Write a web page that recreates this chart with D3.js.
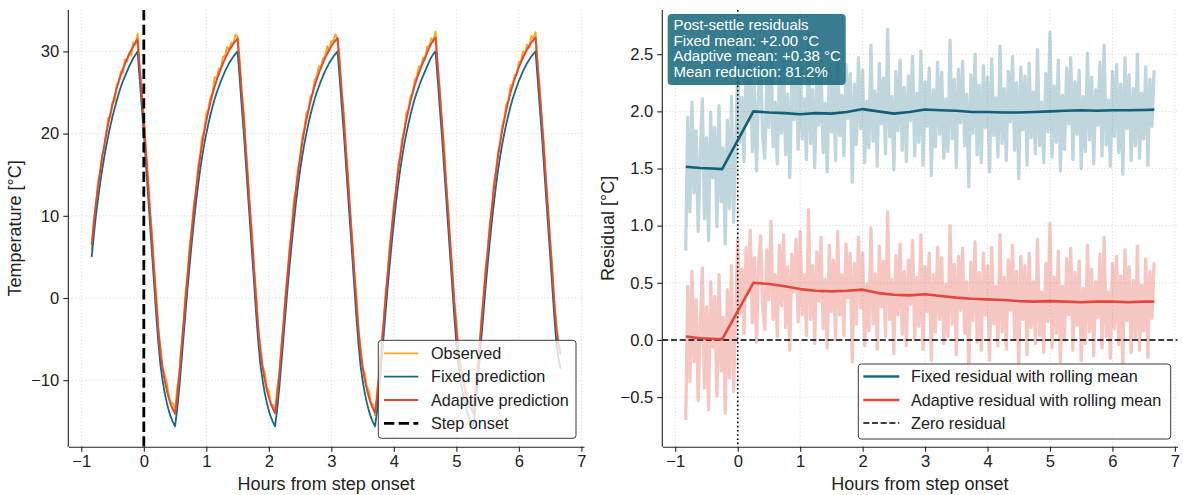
<!DOCTYPE html>
<html>
<head>
<meta charset="utf-8">
<script src="https://cdn.jsdelivr.net/npm/d3@7"></script>
<style>
  html, body { margin: 0; padding: 0; background: #ffffff; }
  svg { display: block; font-family: "Liberation Sans", Arial, Helvetica, sans-serif; }
</style>
</head>
<body>
<svg id="chart" width="1183" height="495"></svg>
<script>
// Two-minute samples, from 50 min before the step onset to 400 min after it.
const sampleMinutes = d3.range(-50, 401, 2);

// Fixed-model temperature prediction [°C]
const fixedPrediction = [
  5.0,7.6,10.0,12.0,13.9,15.6,17.1,18.5,19.8,21.0,22.1,23.1,24.0,24.9,25.7,26.4,27.0,27.6,28.2,28.7,29.2,29.6,30.0,
  26.7,23.3,20.0,16.3,12.6,8.9,5.2,1.5,-2.2,-5.5,-8.2,-10.0,-11.5,-12.7,-13.7,-14.5,-15.1,-15.6,
  -13.6,-11.0,-8.0,-4.9,-1.8,1.2,4.0,6.7,9.2,11.5,13.6,15.5,17.2,18.7,20.0,21.2,22.3,23.3,24.2,25.0,25.7,26.4,27.0,27.6,28.1,28.6,29.0,29.4,29.7,30.0,
  26.7,23.3,20.0,16.3,12.6,8.9,5.2,1.5,-2.2,-5.5,-8.2,-10.0,-11.5,-12.7,-13.7,-14.5,-15.1,-15.6,
  -13.6,-11.0,-8.0,-4.9,-1.8,1.2,4.0,6.7,9.2,11.5,13.6,15.5,17.2,18.7,20.0,21.2,22.3,23.3,24.2,25.0,25.7,26.4,27.0,27.6,28.1,28.6,29.0,29.4,29.7,30.0,
  26.7,23.3,20.0,16.3,12.6,8.9,5.2,1.5,-2.2,-5.5,-8.2,-10.0,-11.5,-12.7,-13.7,-14.5,-15.1,-15.6,
  -13.6,-11.0,-8.0,-4.9,-1.8,1.2,4.0,6.7,9.2,11.5,13.6,15.5,17.2,18.7,20.0,21.2,22.3,23.3,24.2,25.0,25.7,26.4,27.0,27.6,28.2,28.8,29.3,29.7,30.0,
  26.7,23.3,20.0,16.3,12.6,8.9,5.2,1.5,-2.2,-5.5,-8.2,-10.0,-11.5,-12.7,-13.7,-14.5,-15.1,-15.6,
  -13.6,-11.0,-8.0,-4.9,-1.8,1.2,4.0,6.7,9.2,11.5,13.6,15.5,17.2,18.7,20.0,21.2,22.3,23.3,24.2,25.0,25.7,26.4,27.0,27.6,28.1,28.6,29.0,29.4,29.7,30.0,
  26.7,23.3,20.0,16.3,12.6,8.9,5.2,1.5,-2.2,-5.5,-7.3,-8.6
];

// Adaptive-model temperature prediction [°C]
const adaptivePrediction = [
  6.48,9.08,11.48,13.48,15.38,17.08,18.58,19.98,21.28,22.48,23.58,24.58,25.48,26.38,27.18,27.88,28.48,29.08,29.68,30.18,30.68,31.08,31.48,28.18,24.78,
  21.5,17.8,14.1,10.4,6.7,3.0,-0.7,-4.0,-6.7,-8.5,-10.0,-11.2,-12.2,-13.0,-13.6,
  -14.09,-12.09,-9.49,-6.49,-3.39,-0.29,2.71,5.51,8.21,10.71,13.01,15.11,17.01,18.71,20.21,
  21.54,22.74,23.84,24.84,25.74,26.54,27.24,27.94,28.54,29.14,29.64,30.14,30.54,30.94,31.24,
  31.57,28.27,24.87,21.57,17.87,14.17,10.47,6.77,3.07,-0.63,-3.93,-6.63,-8.43,-9.93,-11.13,
  -12.1,-12.9,-13.5,-14.0,-12.0,-9.4,-6.4,-3.3,-0.2,2.8,5.6,8.3,10.8,13.1,15.2,
  17.11,18.81,20.31,21.61,22.81,23.91,24.91,25.81,26.61,27.31,28.01,28.61,29.21,29.71,30.21,
  30.62,31.02,31.32,31.62,28.32,24.92,21.62,17.92,14.22,10.52,6.82,3.12,-0.58,-3.88,-6.58,
  -8.36,-9.86,-11.06,-12.06,-12.86,-13.46,-13.96,-11.96,-9.36,-6.36,-3.26,-0.16,2.84,5.64,8.34,
  10.85,13.15,15.25,17.15,18.85,20.35,21.65,22.85,23.95,24.95,25.85,26.65,27.35,28.05,28.65,
  29.26,29.86,30.46,30.96,31.36,31.66,28.36,24.96,21.66,17.96,14.26,10.56,6.86,3.16,-0.54,
  -3.83,-6.53,-8.33,-9.83,-11.03,-12.03,-12.83,-13.43,-13.93,-11.93,-9.33,-6.33,-3.23,-0.13,2.87,
  5.68,8.38,10.88,13.18,15.28,17.18,18.88,20.38,21.68,22.88,23.98,24.98,25.88,26.68,27.38,
  28.08,28.68,29.28,29.78,30.28,30.68,31.08,31.38,31.68,28.38,24.98,21.68,17.98,14.28,10.58,6.88,3.18,-0.52,-3.82,-5.62,-6.92
];

// Measured temperature [°C]
const observed = [
  5.78,9.55,11.12,14.08,15.19,17.43,18.05,20.12,21.91,22.06,23.87,23.97,25.99,26.32,27.56,27.39,29.05,28.81,29.88,29.54,31.12,30.75,32.13,27.73,25.01,
  22.38,18.03,14.72,10.46,7.51,3.41,0.26,-3.85,-5.98,-8.52,-9.33,-10.29,-11.93,-12.91,-12.81,-13.74,
  -11.05,-9.31,-5.92,-3.36,0.54,3.01,6.43,8.32,11.35,12.92,15.86,17.43,19.59,20.37,22.49,22.96,24.41,24.88,26.88,26.72,27.89,27.91,29.31,29.48,30.54,30.24,31.07,30.87,32.07,31.82,
  28.97,24.87,22.52,18.09,14.74,10.51,7.61,3.44,0.13,-4.12,-5.96,-8.29,-9.03,-10.85,-11.34,-12.95,-13.01,-13.92,
  -11.02,-9.26,-5.82,-3.38,0.62,3.09,6.29,8.33,11.92,13.28,15.73,16.99,19.55,20.53,22.45,22.86,24.51,24.86,26.51,26.92,28.18,28.01,29.16,29.33,30.63,30.13,31.26,31.27,32.08,31.44,
  28.89,24.99,22.43,18.10,14.94,10.49,7.31,3.15,0.42,-3.74,-5.92,-8.49,-9.13,-10.80,-11.26,-12.80,-12.95,-14.26,
  -11.28,-9.19,-5.50,-3.28,0.43,2.75,6.40,8.56,11.50,12.97,16.06,17.29,19.32,20.30,22.57,22.92,24.50,24.87,26.55,26.91,28.18,28.06,29.25,29.01,30.59,30.64,31.61,31.23,32.42,
  28.47,25.47,21.63,18.84,14.30,10.98,6.75,3.83,-0.38,-2.81,-6.60,-7.78,-9.77,-10.25,-12.22,-12.36,-13.43,-13.22,
  -11.71,-8.53,-6.42,-2.64,0.00,3.56,5.50,8.83,10.85,14.01,15.35,17.80,18.74,20.89,21.88,23.63,23.91,25.88,25.91,27.10,27.22,28.75,28.78,30.01,29.74,30.84,30.45,31.87,31.55,32.32,
  28.27,25.50,21.70,18.80,14.19,11.06,6.96,3.89,-0.67,-3.22,-5.43,-6.24
];

// Rolling means of the residuals (hours, °C)
const rollHours = [-0.83,-0.6,-0.4,-0.25,0.25,0.5,0.75,1.0,1.25,1.5,1.75,2.0,2.25,2.5,2.75,3.0,3.25,3.5,3.75,4.0,4.25,4.5,4.75,5.0,5.25,5.5,5.75,6.0,6.25,6.5,6.67];
const fixedRollMean = [1.515,1.505,1.5,1.495,2.0,1.99,1.985,1.975,1.985,1.98,1.995,2.02,2.0,1.98,1.995,2.017,2.01,2.005,1.995,1.995,1.99,1.99,1.995,2.0,2.005,2.01,2.005,2.01,2.01,2.012,2.015];
const adaptiveRollMean = [0.03,0.015,0.01,0.005,0.5,0.49,0.47,0.445,0.43,0.425,0.43,0.44,0.41,0.395,0.39,0.40,0.385,0.37,0.36,0.355,0.35,0.34,0.335,0.34,0.335,0.33,0.335,0.335,0.33,0.335,0.335];

// Axis ticks
const hourTicks = [-1, 0, 1, 2, 3, 4, 5, 6, 7];
const tempTicks = [-10, 0, 10, 20, 30];
const residualTicks = [-0.5, 0, 0.5, 1, 1.5, 2, 2.5];

// Summary box text
const summaryLines = ["Post-settle residuals", "Fixed mean: +2.00 °C", "Adaptive mean: +0.38 °C", "Mean reduction: 81.2%"];

// Series colours
const colObserved = "#f5a81c";
const colFixed = "#176a82";
const colAdaptive = "#e3463b";
const ink = "#222222";

const hours = sampleMinutes.map(m => m / 60);
const fixedResidual = observed.map((v, i) => v - fixedPrediction[i]);
const adaptiveResidual = observed.map((v, i) => v - adaptivePrediction[i]);

const svg = d3.select("#chart");
const plotTop = 10, plotBottom = 446.7;

const xL = d3.scaleLinear().domain([-1.208, 7.042]).range([68.3, 584]);
const yL = d3.scaleLinear().domain([-18.09, 35.04]).range([plotBottom, plotTop]);
const xR = d3.scaleLinear().domain([-1.208, 7.042]).range([662.3, 1177.5]);
const yR = d3.scaleLinear().domain([-0.934, 2.887]).range([plotBottom, plotTop]);

function grid(g, x, y, xt, yt) {
  const [x0, x1] = x.range();
  g.selectAll(null).data(xt).enter().append("line")
    .attr("x1", d => x(d)).attr("x2", d => x(d)).attr("y1", plotTop).attr("y2", plotBottom)
    .attr("stroke", "#d4d4d4").attr("stroke-width", 0.8).attr("stroke-dasharray", "1.2,2.2");
  g.selectAll(null).data(yt).enter().append("line")
    .attr("x1", x0).attr("x2", x1).attr("y1", d => y(d)).attr("y2", d => y(d))
    .attr("stroke", "#d4d4d4").attr("stroke-width", 0.8).attr("stroke-dasharray", "1.2,2.2");
}

function axes(g, x, y, yt, yfmt, yLabel, yLabelX) {
  const [x0, x1] = x.range();
  const ax = g.append("g").attr("transform", `translate(0,${plotBottom})`)
    .call(d3.axisBottom(x).tickValues(hourTicks).tickFormat(d3.format("d"))
      .tickSize(5).tickPadding(4).tickSizeOuter(0));
  const ay = g.append("g").attr("transform", `translate(${x0},0)`)
    .call(d3.axisLeft(y).tickValues(yt).tickFormat(yfmt)
      .tickSize(5).tickPadding(4).tickSizeOuter(0));
  [ax, ay].forEach(a => {
    a.attr("font-family", null).attr("font-size", null);
    a.select(".domain").attr("stroke", ink).attr("stroke-width", 1.1);
    a.selectAll(".tick line").attr("stroke", ink).attr("stroke-width", 1.1);
    a.selectAll(".tick text").attr("fill", ink).style("font-size", "16.6px");
  });
  // left spine spans the full plot height
  ay.select(".domain").attr("d", `M0,${plotBottom}V${plotTop}`);
  g.append("text").attr("x", (x0 + x1) / 2).attr("y", 490)
    .attr("text-anchor", "middle").attr("fill", ink).style("font-size", "18px")
    .text("Hours from step onset");
  g.append("text").attr("transform", `translate(${yLabelX},${(plotTop + plotBottom) / 2}) rotate(-90)`)
    .attr("text-anchor", "middle").attr("fill", ink).style("font-size", "18px")
    .text(yLabel);
}

function legend(g, x, y, w, h, rowsY, lineX0, lineX1, textX, items) {
  g.append("rect").attr("x", x).attr("y", y).attr("width", w).attr("height", h)
    .attr("rx", 3).attr("fill", "#ffffff").attr("fill-opacity", 0.8)
    .attr("stroke", "#3a3a3a").attr("stroke-width", 1);
  items.forEach((it, k) => {
    const yy = rowsY[k];
    g.append("line").attr("x1", lineX0).attr("x2", lineX1).attr("y1", yy).attr("y2", yy)
      .attr("stroke", it.color).attr("stroke-width", it.width)
      .attr("stroke-dasharray", it.dash || null);
    g.append("text").attr("x", textX).attr("y", yy).attr("dy", "0.35em")
      .attr("fill", ink).style("font-size", "16.2px").text(it.label);
  });
}

// ---------- Left panel: temperatures ----------
const gl = svg.append("g");
grid(gl, xL, yL, hourTicks, tempTicks);

const lineL = data => d3.line().x((d, i) => xL(hours[i])).y(d => yL(d))(data);
gl.append("path").attr("d", lineL(observed)).attr("fill", "none")
  .attr("stroke", colObserved).attr("stroke-width", 2).attr("stroke-linejoin", "round");
gl.append("path").attr("d", lineL(fixedPrediction)).attr("fill", "none")
  .attr("stroke", colFixed).attr("stroke-width", 1.8).attr("stroke-linejoin", "round");
gl.append("path").attr("d", lineL(adaptivePrediction)).attr("fill", "none")
  .attr("stroke", colAdaptive).attr("stroke-width", 1.9).attr("stroke-linejoin", "round");

gl.append("line").attr("x1", xL(0)).attr("x2", xL(0)).attr("y1", plotTop).attr("y2", plotBottom)
  .attr("stroke", "#000").attr("stroke-width", 2.8).attr("stroke-dasharray", "10.3,4.4");

axes(gl, xL, yL, tempTicks, d3.format("d"), "Temperature [°C]", 21.3);

legend(gl, 378.3, 340.3, 197.7, 98, [353.3, 376.7, 400, 423.3], 384, 418.3, 431, [
  { label: "Observed", color: colObserved, width: 1.8 },
  { label: "Fixed prediction", color: colFixed, width: 1.8 },
  { label: "Adaptive prediction", color: colAdaptive, width: 1.8 },
  { label: "Step onset", color: "#000", width: 2.8, dash: "10.3,4.4" }
]);

// ---------- Right panel: residuals ----------
const gr = svg.append("g");
grid(gr, xR, yR, hourTicks, residualTicks);

const lineR = data => d3.line().x((d, i) => xR(hours[i])).y(d => yR(d))(data);
gr.append("path").attr("d", lineR(fixedResidual)).attr("fill", "none")
  .attr("stroke", colFixed).attr("stroke-opacity", 0.28).attr("stroke-width", 3.3)
  .attr("stroke-linejoin", "round");
gr.append("path").attr("d", lineR(adaptiveResidual)).attr("fill", "none")
  .attr("stroke", "#dd4136").attr("stroke-opacity", 0.3).attr("stroke-width", 3.3)
  .attr("stroke-linejoin", "round");

gr.append("line").attr("x1", xR.range()[0]).attr("x2", xR.range()[1]).attr("y1", yR(0)).attr("y2", yR(0))
  .attr("stroke", "#000").attr("stroke-width", 1.5).attr("stroke-dasharray", "6,2.7");
gr.append("line").attr("x1", xR(0)).attr("x2", xR(0)).attr("y1", plotTop).attr("y2", plotBottom)
  .attr("stroke", "#000").attr("stroke-width", 1.6).attr("stroke-dasharray", "1.6,2.6");

const rollLine = vals => d3.line().x((d, i) => xR(rollHours[i])).y(d => yR(d))(vals);
gr.append("path").attr("d", rollLine(fixedRollMean)).attr("fill", "none")
  .attr("stroke", "#135f75").attr("stroke-width", 2.6).attr("stroke-linejoin", "round");
gr.append("path").attr("d", rollLine(adaptiveRollMean)).attr("fill", "none")
  .attr("stroke", colAdaptive).attr("stroke-width", 2.6).attr("stroke-linejoin", "round");

axes(gr, xR, yR, residualTicks, d3.format(".1f"), "Residual [°C]", 613.5);

// Summary box
const box = gr.append("g");
box.append("rect").attr("x", 667.7).attr("y", 14).attr("width", 178).attr("height", 71)
  .attr("rx", 4).attr("fill", "#1b6a80").attr("fill-opacity", 0.88);
summaryLines.forEach((s, k) => {
  box.append("text").attr("x", 673.5).attr("y", 25 + k * 15.5).attr("dy", "0.35em")
    .attr("fill", "#ffffff").style("font-size", "15px").text(s);
});

legend(gr, 858.3, 364, 312.4, 75, [376.5, 400, 423], 863.3, 899.3, 911, [
  { label: "Fixed residual with rolling mean", color: colFixed, width: 2.6 },
  { label: "Adaptive residual with rolling mean", color: colAdaptive, width: 2.6 },
  { label: "Zero residual", color: "#000", width: 1.5, dash: "6,2.7" }
]);
</script>
</body>
</html>
